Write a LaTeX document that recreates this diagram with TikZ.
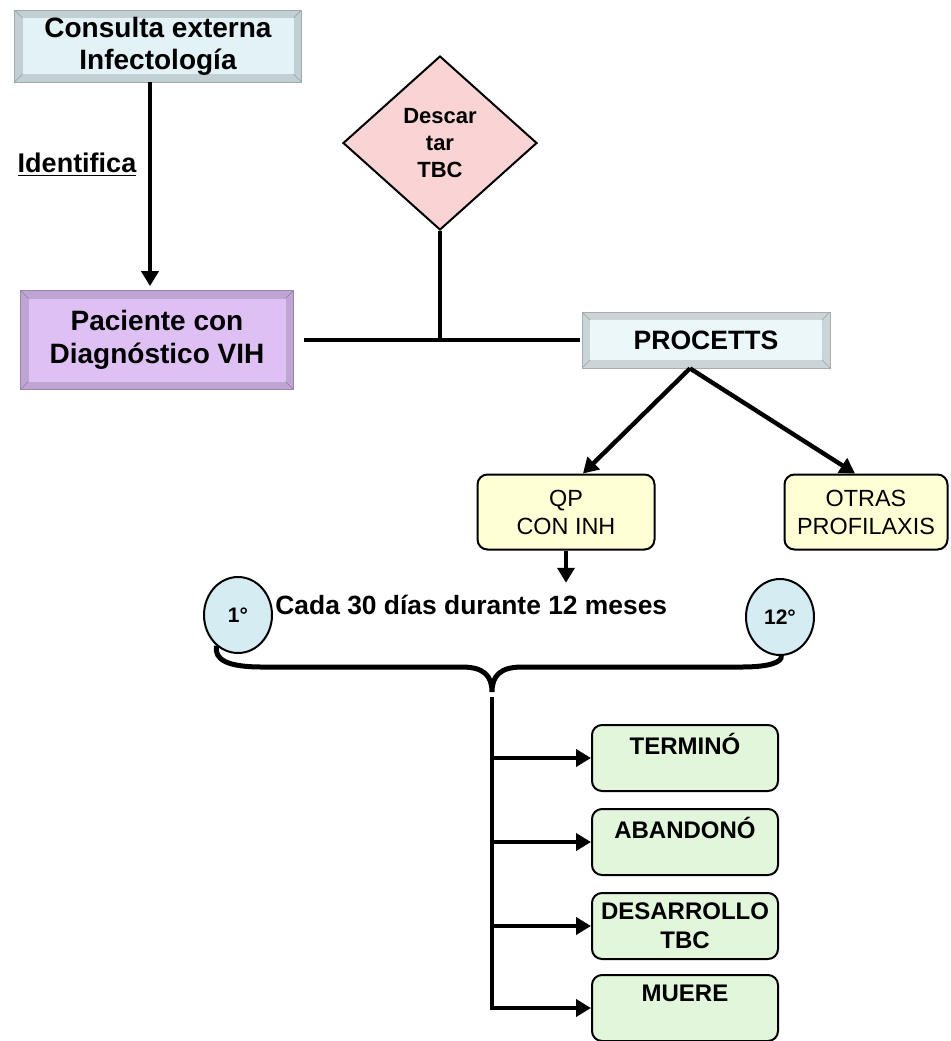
\documentclass[tikz,border=0pt]{standalone}
\usepackage{fontspec}
\setmainfont{Liberation Sans}
\usetikzlibrary{shapes.geometric, positioning, arrows.meta, calc}
\usepackage{xcolor}

\definecolor{consblue}{RGB}{226,242,247}
\definecolor{procblue}{RGB}{236,247,250}
\definecolor{pacviolet}{RGB}{222,192,245}
\definecolor{tbcpink}{RGB}{250,212,212}
\definecolor{qpyellow}{RGB}{255,255,214}
\definecolor{mesblue}{RGB}{212,236,242}
\definecolor{finalgreen}{RGB}{226,246,220}

\tikzset{
    bevelbox/.style={fill=#1!86!black, draw=#1!70!black, line width=0.4pt, align=center, inner sep=0pt,
        path picture={
            \fill[#1] ([shift={(4pt,-4pt)}]path picture bounding box.north west) rectangle ([shift={(-4pt,4pt)}]path picture bounding box.south east);
            \draw[#1!65!black, line width=0.3pt] (path picture bounding box.north west) -- ++(4pt,-4pt)
                (path picture bounding box.north east) -- ++(-4pt,-4pt)
                (path picture bounding box.south west) -- ++(4pt,4pt)
                (path picture bounding box.south east) -- ++(-4pt,4pt);
        }},
    roundbox/.style={draw=black, line width=1pt, rounded corners=5pt, fill=#1, align=center, inner sep=0pt},
    mes/.style={draw=black, line width=1pt, ellipse, fill=mesblue, minimum width=34pt, minimum height=38pt, inner sep=0pt, font=\fontsize{10.5}{12}\selectfont\bfseries},
    outcome/.style={roundbox=finalgreen, minimum width=93pt, minimum height=33pt, font=\fontsize{12}{14.5}\selectfont\bfseries},
    link/.style={line width=2.2pt},
    arrowlink/.style={link, -{Triangle[length=7.5pt,width=8.5pt]}},
}

\begin{document}
\begin{tikzpicture}[x=0.5pt, y=-0.5pt]
    \useasboundingbox (0,0) rectangle (951,1041);

    % Top boxes: consulta and paciente
    \node[bevelbox=consblue, minimum width=143.5pt, minimum height=36pt, font=\fontsize{14}{16}\selectfont\bfseries] (consulta) at (158,46) {Consulta externa\\Infectología};
    \node[bevelbox=pacviolet, minimum width=136.5pt, minimum height=49.5pt, font=\fontsize{14}{16.5}\selectfont\bfseries] (paciente) at (157,340) {Paciente con\\Diagnóstico VIH};
    \node[font=\fontsize{13.5}{15}\selectfont\bfseries] (identifica) at (77,165) {\underline{Identifica}};

    % Decision diamond
    \node[diamond, aspect=1.1, draw, line width=1pt, fill=tbcpink, minimum width=97pt, minimum height=87pt, inner sep=0pt, align=center, font=\fontsize{11}{13.5}\selectfont\bfseries] (tbc) at (440,143) {Descar\\tar\\TBC};

    % Program box and its two branches
    \node[bevelbox=procblue, minimum width=124pt, minimum height=28pt, font=\fontsize{13.3}{15}\selectfont\bfseries] (procetts) at (706,340) {PROCETTS};
    \node[roundbox=qpyellow, minimum width=88.5pt, minimum height=37.5pt, font=\fontsize{11.7}{14}\selectfont] (qp) at (566,512) {QP\\CON INH};
    \node[roundbox=qpyellow, minimum width=81.5pt, minimum height=37.5pt, font=\fontsize{11.7}{14}\selectfont] (otras) at (866,512) {OTRAS\\PROFILAXIS};

    % Monthly controls
    \node[font=\fontsize{13.2}{15}\selectfont\bfseries, anchor=west, inner sep=0pt] (cada) at (275,605) {Cada 30 días durante 12 meses};
    \node[mes] (m1) at (238,615) {1°};
    \node[mes] (m12) at (780,617) {12°};

    % Outcomes
    \node[outcome] (termino) at (685,758) {TERMINÓ\\\phantom{X}};
    \node[outcome] (abandono) at (685,842) {ABANDONÓ\\\phantom{X}};
    \node[outcome] (desarrollo) at (685,926) {DESARROLLO\\TBC};
    \node[outcome] (muere) at (685,1008) {MUERE\\\phantom{X}};

    % Connectors
    \draw[arrowlink, shorten >=2pt] ($(consulta.south)+(-8,0)$) -- ($(paciente.north)+(-7,0)$);
    \draw[link, shorten <=5pt, shorten >=1pt] (paciente.east) -- (procetts.west);
    \draw[link] (tbc.south) -- (tbc.south |- paciente.east);
    \coordinate (fork) at ($(procetts.south)+(-16,0)$);
    \draw[arrowlink] (fork) -- ($(qp.north)+(17,0)$);
    \draw[arrowlink] (fork) -- ($(otras.north)+(-11,0)$);
    \draw[arrowlink, shorten >=6pt] (qp.south) -- (qp.south |- cada.north);

    % Brace joining the first and last month
    \draw[line width=2.5pt] (m1.235) .. controls (214,660) and (228,667) .. (262,667) -- (462,667)
        .. controls (484,667) and (492,676) .. (492,692)
        .. controls (492,676) and (500,667) .. (522,667) -- (742,667)
        .. controls (770,667) and (782,662) .. (m12.272);

    \coordinate (stem) at (492,697);
    \draw[arrowlink] (stem) |- (muere.west);
    \draw[arrowlink] (stem |- termino.west) -- (termino.west);
    \draw[arrowlink] (stem |- abandono.west) -- (abandono.west);
    \draw[arrowlink] (stem |- desarrollo.west) -- (desarrollo.west);
\end{tikzpicture}
\end{document}
